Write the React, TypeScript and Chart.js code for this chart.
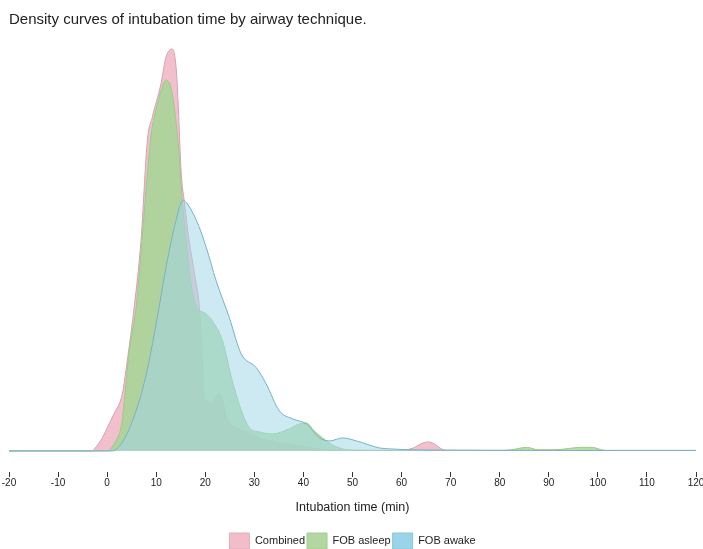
import { useEffect, useRef } from 'react';
import { Chart, registerables } from 'chart.js';

Chart.register(...registerables);

const chartTitle = 'Density curves of intubation time by airway technique.';
const xAxisTitle = 'Intubation time (min)';
const seriesNames = ['Combined', 'FOB asleep', 'FOB awake'];
const xTicks = [-20, -10, 0, 10, 20, 30, 40, 50, 60, 70, 80, 90, 100, 110, 120];

// Combined
const combinedMin = [-20, -3.1, -2.6, -1.0, 0.4, 1.4, 3.1, 4.1, 5.5, 6.9, 8.2, 9.2, 11.0, 12.0, 13.3, 14.1, 14.5, 15.1, 15.7, 16.7, 17.8, 18.8, 19.4, 19.8, 21.4, 22.9, 24.5, 26.3, 28.4, 31.0, 33.1, 37.1, 40.6, 45.3, 51.4, 59.6, 62.4, 63.9, 65.3, 66.7, 67.8, 69.2, 120];
const combinedDensity = [0, 0, 0.0004, 0.0026, 0.0054, 0.0074, 0.0114, 0.018, 0.0286, 0.042, 0.062, 0.0666, 0.0734, 0.0786, 0.0802, 0.076, 0.0686, 0.0554, 0.05, 0.042, 0.0354, 0.0286, 0.018, 0.0104, 0.0096, 0.0116, 0.0064, 0.0046, 0.0038, 0.0026, 0.002, 0.0014, 0.0008, 0.0002, 0.0001, 0.0001, 0.0006, 0.0014, 0.0018, 0.0014, 0.0006, 0.0001, 0.0001];

// FOB asleep
const asleepMin = [-20, 0, 1.5, 3.0, 3.6, 4.5, 5.9, 7.1, 8.2, 9.0, 9.6, 10.6, 11.6, 12.0, 13.0, 13.7, 14.7, 15.3, 16.1, 17.3, 18.6, 19.8, 21.4, 23.5, 25.5, 27.6, 29.0, 31.0, 33.7, 37.1, 39.2, 40.6, 42.2, 43.9, 46.3, 49.4, 60, 80, 82.4, 85.5, 87.9, 91.2, 96.7, 98.8, 101.5, 120];
const asleepDensity = [0, 0, 0.0016, 0.0056, 0.011, 0.02, 0.0286, 0.042, 0.0554, 0.0634, 0.0666, 0.0706, 0.0736, 0.074, 0.0726, 0.0686, 0.0586, 0.05, 0.042, 0.032, 0.0282, 0.0276, 0.026, 0.022, 0.014, 0.0074, 0.0046, 0.0038, 0.0034, 0.0044, 0.0054, 0.0056, 0.004, 0.0026, 0.001, 0.0002, 0.0001, 0.0001, 0.00024, 0.00072, 0.00024, 0.00024, 0.00072, 0.00072, 0.0001, 0.0001];

// FOB awake
const awakeMin = [-20, 1.0, 3.5, 6.1, 8.0, 10.0, 12.0, 13.7, 15.5, 16.1, 18.2, 20.2, 22.2, 24.9, 27.3, 30.4, 32.4, 35.1, 37.8, 40.6, 43.3, 45.3, 48.0, 50.8, 55.5, 57.8, 63.7, 100, 120];
const awakeDensity = [0, 0, 0.0024, 0.0086, 0.0154, 0.0254, 0.0366, 0.0446, 0.05, 0.0496, 0.046, 0.0406, 0.034, 0.0266, 0.0194, 0.0166, 0.0134, 0.008, 0.0064, 0.0054, 0.0026, 0.002, 0.0026, 0.002, 0.0006, 0.0004, 0.0002, 0.0001, 0.0001];

const fills = ['rgba(232,140,162,0.55)', 'rgba(160,215,145,0.8)', 'rgba(164,215,231,0.55)'];
const strokes = ['rgb(214,160,176)', 'rgb(160,200,140)', 'rgb(118,178,198)'];
const legendFills = ['#F2BCC8', '#B3D7A0', '#9AD4E8'];
const legendStrokes = ['#E0AEBA', '#A6CC94', '#8CC6DA'];

const FONT = '"Liberation Sans", Arial, Helvetica, sans-serif';

export default function App() {
  const ref = useRef<HTMLCanvasElement>(null);
  useEffect(() => {
    const pts = (xs: number[], ys: number[]) => xs.map((x, i) => ({ x, y: ys[i] }));
    const series = [
      pts(combinedMin, combinedDensity),
      pts(asleepMin, asleepDensity),
      pts(awakeMin, awakeDensity),
    ];
    const chart = new Chart(ref.current!, {
      type: 'line',
      data: {
        datasets: series.map((d, i) => ({
          label: seriesNames[i],
          data: d,
          fill: 'origin',
          backgroundColor: fills[i],
          borderColor: strokes[i],
          borderWidth: 1,
          pointRadius: 0,
          cubicInterpolationMode: 'monotone' as const,
          order: 3 - i,
        })),
      },
      options: {
        animation: false,
        responsive: true,
        maintainAspectRatio: false,
        font: { family: FONT },
        layout: { padding: { left: 9, right: 7, top: 0, bottom: -10 } },
        plugins: {
          title: {
            display: true,
            text: chartTitle,
            align: 'start',
            color: '#222',
            font: { family: FONT, size: 15, weight: 'normal' },
            padding: { top: 11, bottom: 12 },
          },
          legend: {
            position: 'bottom',
            labels: {
              boxWidth: 20,
              boxHeight: 16,
              padding: 2,
              color: '#222',
              font: { family: FONT, size: 11 },
              generateLabels: () =>
                seriesNames.map((n, i) => ({
                  text: n,
                  fillStyle: legendFills[i],
                  strokeStyle: legendStrokes[i],
                  lineWidth: 1,
                  hidden: false,
                  datasetIndex: i,
                  fontColor: '#222',
                })),
            },
          },
          tooltip: { enabled: false },
        },
        scales: {
          x: {
            type: 'linear',
            min: -20,
            max: 120,
            afterFit: (s: any) => {
              s.paddingLeft = 0;
              s.paddingRight = 0;
            },
            afterBuildTicks: (s: any) => {
              s.ticks = xTicks.map((v) => ({ value: v }));
            },
            ticks: {
              color: '#222',
              padding: 0,
              maxRotation: 0,
              autoSkip: false,
              font: { family: FONT, size: 10 },
            },
            grid: {
              display: true,
              drawOnChartArea: false,
              drawTicks: true,
              tickLength: 5,
              tickColor: '#333',
            },
            border: { display: false },
            title: {
              display: true,
              text: xAxisTitle,
              color: '#222',
              font: { family: FONT, size: 12.5 },
              padding: { top: 11, bottom: 16 },
            },
          },
          y: { display: false, min: -0.0042, max: 0.0818 },
        },
      },
    });
    return () => chart.destroy();
  }, []);
  return (
    <div style={{ position: 'absolute', left: 0, top: 0, width: 703, height: 549 }}>
      <canvas ref={ref} />
    </div>
  );
}
